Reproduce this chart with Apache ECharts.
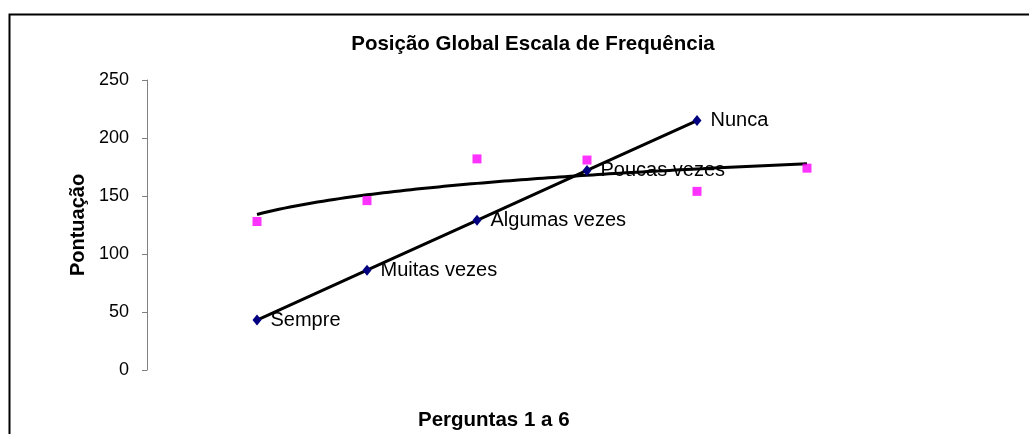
<!DOCTYPE html>
<html>
<head>
<meta charset="utf-8">
<script src="https://cdn.jsdelivr.net/npm/echarts@6/dist/echarts.min.js"></script>
<style>
    html, body { margin: 0; padding: 0; background: #fff; }
    #chart { width: 1029px; height: 434px; }
</style>
</head>
<body>
<div id="chart"></div>
<script>
// perguntas (posição no eixo x)
const perguntas = [1, 2, 3, 4, 5, 6]
// escala de frequência (losangos azuis)
const escalaX = [1, 2, 3, 4, 5]
const escalaValores = [43, 86, 129, 172, 215]
const escalaNomes = ['Sempre', 'Muitas vezes', 'Algumas vezes', 'Poucas vezes', 'Nunca']
// pontuação global (quadrados rosa)
const pontuacao = [128, 146, 182, 181, 154, 174]
const yTicks = [0, 50, 100, 150, 200, 250]

// linha de tendência logarítmica (y = a*ln(x) + b) calculada dos pontos rosa
function tendenciaLog(xs, ys) {
    const lx = xs.map(v => Math.log(v))
    const mx = lx.reduce((s, v) => s + v, 0) / lx.length
    const my = ys.reduce((s, v) => s + v, 0) / ys.length
    let sxy = 0
    let sxx = 0
    lx.forEach((v, i) => {
        sxy += (v - mx) * (ys[i] - my)
        sxx += (v - mx) * (v - mx)
    })
    const a = sxy / sxx
    const b = my - a * mx
    const pts = []
    for (let x = xs[0]; x <= xs[xs.length - 1] + 1e-9; x += 0.05) {
        pts.push([x, a * Math.log(x) + b])
    }
    return pts
}

const chart = echarts.init(document.getElementById('chart'), null, { renderer: 'canvas' })
const fonte = 'Arial, "Liberation Sans", sans-serif'

chart.setOption({
    animation: false,
    backgroundColor: '#fff',
    title: {
        text: 'Posição Global Escala de Frequência',
        left: 528,
        textAlign: 'center',
        top: 29,
        textStyle: { fontFamily: fonte, fontSize: 20.5, fontWeight: 'bold', color: '#000' }
    },
    graphic: [
        {
            type: 'rect',
            shape: { x: 9.5, y: 14.5, width: 1100, height: 500 },
            style: { fill: 'none', stroke: '#000', lineWidth: 2 },
            silent: true
        },
        {
            type: 'text',
            left: 418,
            top: 410,
            style: { text: 'Perguntas 1 a 6', font: 'bold 20.5px ' + fonte, fill: '#000' }
        }
    ],
    grid: { left: 147, right: 112, top: 80, bottom: 64 },
    xAxis: {
        type: 'value',
        min: 0,
        max: 7,
        axisLine: { show: false },
        axisTick: { show: false },
        axisLabel: { show: false },
        splitLine: { show: false }
    },
    yAxis: {
        type: 'value',
        min: yTicks[0],
        max: yTicks[yTicks.length - 1],
        interval: 50,
        name: 'Pontuação',
        nameLocation: 'middle',
        nameGap: 57,
        nameTextStyle: { fontFamily: fonte, fontSize: 20, fontWeight: 'bold', color: '#000' },
        axisLine: { show: true, lineStyle: { color: '#808080', width: 1 } },
        axisTick: { show: true, length: 5, lineStyle: { color: '#808080' } },
        axisLabel: { margin: 18, fontFamily: fonte, fontSize: 18, color: '#000' },
        splitLine: { show: false }
    },
    series: [
        {
            name: 'Tendência log',
            type: 'line',
            data: tendenciaLog(perguntas, pontuacao),
            showSymbol: false,
            symbol: 'none',
            lineStyle: { color: '#000', width: 3 },
            z: 2
        },
        {
            name: 'Pontuação',
            type: 'scatter',
            data: perguntas.map((x, i) => [x, pontuacao[i]]),
            symbol: 'rect',
            symbolSize: 9,
            itemStyle: { color: '#ff00ff' },
            z: 3
        },
        {
            name: 'Escala',
            type: 'line',
            data: escalaX.map((x, i) => ({ value: [x, escalaValores[i]], name: escalaNomes[i] })),
            symbol: 'diamond',
            symbolSize: [9, 11],
            itemStyle: { color: '#000080' },
            lineStyle: { color: '#000', width: 3 },
            label: {
                show: true,
                position: 'right',
                distance: 9,
                formatter: p => p.name,
                fontFamily: fonte,
                fontSize: 20,
                color: '#000'
            },
            z: 4
        }
    ]
})
</script>
</body>
</html>
